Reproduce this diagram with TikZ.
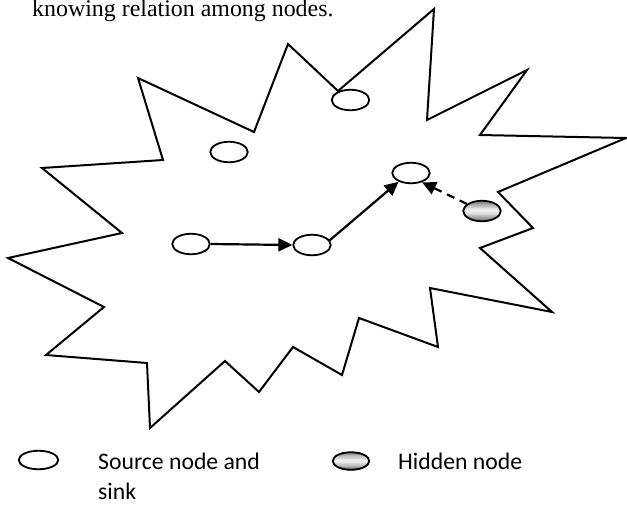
\documentclass[tikz,border=0pt]{standalone}
\usepackage{fontspec}
\setmainfont{Liberation Serif}
\newfontfamily\legendfont{Carlito}
\usetikzlibrary{arrows.meta,shapes.geometric}
% grey bands clipped to an ellipse: #1 centre, #2 x radius, #3 y radius
\newcommand{\graybands}[3]{%
  \begin{scope}
    \clip (#1) ellipse [x radius=#2, y radius=#3];
    \foreach \k in {0,...,23}{
      \pgfmathsetmacro{\shadeval}{6+56*abs(2*(\k+0.5)/24-1)^1.4}
      \fill[black!\shadeval]
        ([shift={(-#2,-#3+2*#3*\k/24)}]#1) rectangle ++(2*#2,2*#3/24+0.4);
    }
  \end{scope}}
\begin{document}
\begin{tikzpicture}[x=1pt,y=-1pt,
  outline/.style={line width=2pt, line join=miter},
  netnode/.style={ellipse, draw, line width=1.8pt, minimum width=37.5pt,
    minimum height=20.5pt, inner sep=0pt},
  srcnode/.style={netnode, fill=white},
  link/.style={line width=2.2pt, -{Triangle[length=14pt,width=13pt]}},
  hiddenlink/.style={link, dash pattern=on 8pt off 6pt},
  legendtext/.style={anchor=base west, inner sep=0pt,
    font=\legendfont\fontsize{23.7}{30}\selectfont}
]
\useasboundingbox (0,0) rectangle (627,504);

% caption line
\node[anchor=base west, inner sep=0pt, font=\fontsize{23.9}{28}\selectfont]
  (caption) at (32,16.5) {knowing relation among nodes.};

% network boundary
\draw[outline] (288,44) -- (338,91) -- (434,9) -- (427,120) -- (527,70)
  -- (480,135) -- (626,138) -- (498,192) -- (533,228) -- (480,248)
  -- (552,312) -- (430,288) -- (438,347) -- (359,318) -- (342,375)
  -- (293,347) -- (259,392) -- (225,361) -- (150,428) -- (147,363)
  -- (46,355) -- (104,307) -- (8,258) -- (122,233) -- (42,168)
  -- (163,160) -- (138,78) -- (254,132) -- cycle;

% nodes
\node[srcnode] (n1) at (229,152) {};
\node[srcnode] (n2) at (350.5,100) {};
\node[srcnode] (src) at (191,244) {};
\node[srcnode] (mid) at (312,245) {};
\node[srcnode] (sink) at (411,173) {};
\coordinate (hidpos) at (482,211);
\graybands{hidpos}{19}{10.5}
\node[netnode] (hid) at (hidpos) {};

% connections
\draw[link] (src.east) -- (mid.west);
\draw[link] (mid.15) -- (sink.215);
\draw[hiddenlink] (hid.155) -- (sink.320);

% legend
\node[srcnode, minimum width=39.5pt, minimum height=18.5pt] (legsrc) at (38.5,460) {};
\node[legendtext] (legsrctext) at (98,469) {Source node and};
\node[legendtext] (legsrctext2) at (98,499) {sink};
\coordinate (leghidpos) at (351,461);
\graybands{leghidpos}{19}{9.5}
\node[netnode, minimum width=36.5pt, minimum height=17.5pt] (leghid) at (leghidpos) {};
\node[legendtext] (leghidtext) at (398,469) {Hidden node};
\end{tikzpicture}
\end{document}
